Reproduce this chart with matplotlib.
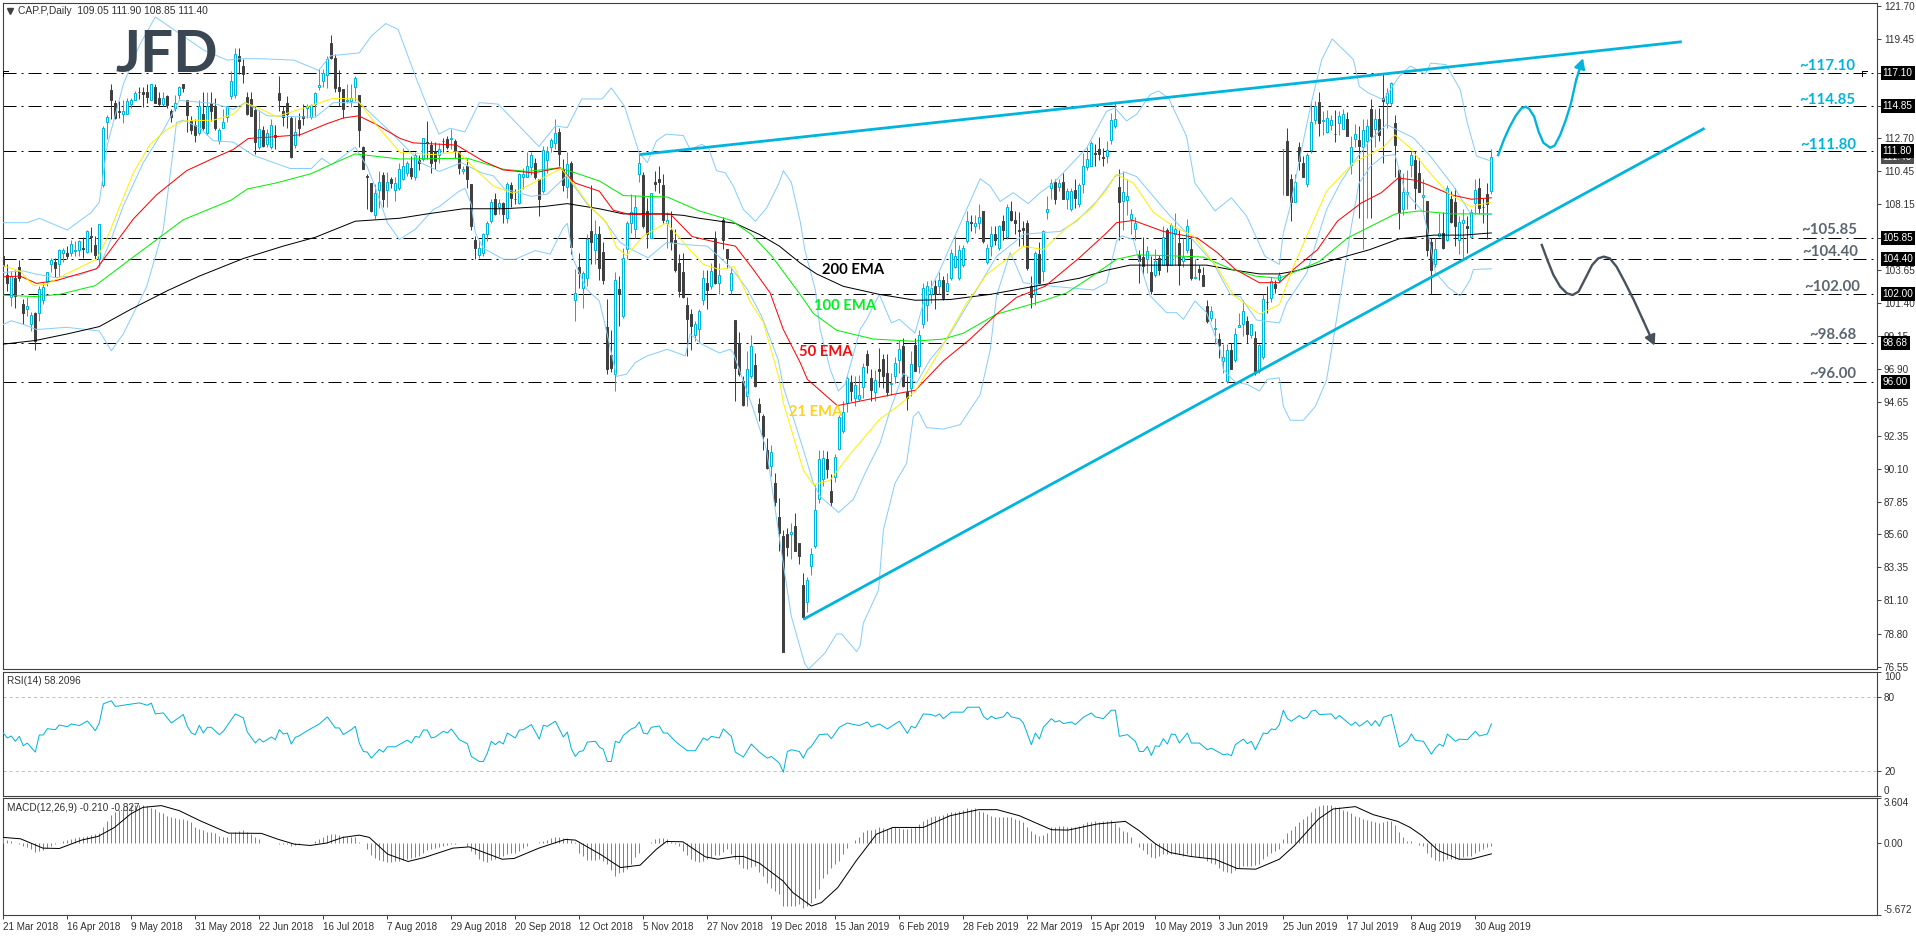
import matplotlib
matplotlib.use("Agg")
import matplotlib.pyplot as plt
from matplotlib.transforms import blended_transform_factory

# ---------- candles: (open, high, low, close), daily bars ----------
candles_a = [
(104.65,105.2,103.5,103.95),(103.3,104.1,102.2,102.8),(101.85,103.6,101.2,103.25),(103.1,103.7,101.1,101.9),
(103.85,104.35,102.9,103.1),(101.35,101.7,99.95,100.7),(101.0,101.8,100.55,101.2),(100.0,100.8,99.5,100.6),
(100.75,100.8,98.2,98.85),(100.75,102.55,100.2,102.35),(101.6,102.8,101.35,102.5),(102.85,103.55,102.6,103.55),
(104.1,104.5,103.5,104.35),(104.2,104.5,103.2,103.8),(104.05,105.1,103.2,105.0),(104.85,105.15,104.2,105.0),
(104.85,105.3,104.45,104.6),(104.85,105.75,104.65,105.45),(104.95,105.65,104.65,105.0),(105.0,105.75,104.65,105.65),
(105.15,105.9,104.5,105.1),(104.9,106.4,104.8,106.35),(106.0,106.6,104.9,105.9),(105.4,106.0,104.4,104.7),
(104.45,106.8,103.85,106.8),(109.45,113.5,109.35,113.4),(113.75,114.25,112.6,114.15),(115.95,116.35,114.0,115.25),
(115.05,115.3,114.0,114.05),(114.5,115.2,114.05,114.45),(114.3,115.3,113.7,114.5),(114.35,115.45,114.3,115.2),
(115.0,115.45,114.75,115.25),(115.25,115.9,115.25,115.75),(115.85,116.15,115.35,115.8),(115.8,116.15,114.8,115.7),
(115.8,116.35,115.1,115.5),(115.3,116.35,115.3,116.35),(116.15,116.35,115.05,115.1),(115.45,115.8,114.85,115.0),
(115.0,115.8,114.9,115.45),(115.55,115.65,114.7,114.95),(114.5,114.65,113.75,114.1),(114.7,115.65,114.55,115.05),
(115.6,116.25,115.35,116.15),(116.35,116.35,115.8,116.1),(115.25,115.3,113.1,114.25),(113.85,114.2,112.95,113.2),
(113.6,114.0,112.4,112.9),(113.0,115.25,112.9,114.9),(114.3,115.8,113.2,113.4),(113.0,115.85,112.9,114.85),
(115.05,115.8,113.85,114.5),(114.9,115.45,113.2,113.4),(112.5,113.4,112.25,113.2),(113.4,114.65,113.35,113.75),
(114.1,114.9,113.75,114.9),(115.55,117.25,115.35,116.6),(115.65,118.85,115.45,118.4),(118.3,118.85,117.05,117.95),
(117.6,118.05,116.45,117.05),(115.5,115.8,114.25,114.3),(115.35,115.8,114.25,114.2),(114.6,114.85,111.6,112.4),
]
candles_b = [
(112.1,114.6,111.95,113.3),(113.25,113.5,112.1,112.15),(112.25,113.3,112.05,113.0),(112.1,114.0,111.95,113.55),
(112.9,113.6,111.95,112.75),(115.75,116.9,114.55,115.3),(114.5,114.9,113.5,114.1),(115.1,115.55,113.4,114.3),
(114.05,114.2,111.3,111.4),(112.2,114.1,112.0,113.1),(113.9,114.4,112.85,113.4),(114.2,115.0,113.6,114.05),
(114.7,115.0,114.05,114.9),(114.1,115.0,114.0,114.95),(115.0,115.85,114.2,115.75),(116.15,117.4,115.95,116.3),
(116.6,117.4,116.2,117.1),(117.0,118.3,116.1,118.1),(119.2,119.7,118.1,118.15),(118.15,118.4,115.85,116.1),
(116.2,117.3,114.85,115.9),(116.05,116.05,114.05,114.65),(115.2,116.35,115.1,115.3),(115.2,116.35,114.8,115.45),
(116.2,116.9,115.2,116.8),(115.6,115.6,112.1,113.25),(112.1,112.15,110.55,110.6),(110.1,110.2,107.85,110.05),
(109.6,109.6,107.65,107.7),(107.4,109.55,107.15,108.95),(109.1,110.4,107.9,109.65),(110.15,110.35,108.0,108.5),
(109.1,110.35,108.0,109.65),(109.85,110.0,109.3,109.6),(109.1,110.0,108.4,109.6),(109.3,111.0,109.1,110.55),
(109.9,112.0,109.8,110.75),(110.3,111.1,110.1,110.95),(110.65,111.45,109.9,110.1),(110.05,111.7,109.8,111.55),
(111.2,111.55,110.5,111.0),(111.25,112.7,111.1,112.65),(112.4,113.85,111.25,112.35),(112.2,112.5,110.3,111.0),
(111.8,112.4,110.55,111.1),(111.55,112.35,111.0,111.95),(112.5,112.7,111.7,112.45),(112.6,112.85,111.9,112.1),
(112.6,113.3,111.9,112.7),(112.5,112.6,111.3,111.8),(111.75,111.8,110.2,110.65),(110.4,110.8,110.2,110.6),
(110.8,111.25,109.3,109.9),(109.55,109.55,106.4,106.7),(105.75,106.0,104.45,105.2),(104.7,105.75,104.5,105.2),
(104.85,106.2,104.6,106.15),(106.1,107.0,105.65,106.9),(107.0,108.55,106.9,108.3),(108.5,108.9,107.4,107.5),
(108.0,108.55,107.5,108.25),(108.25,108.3,106.85,107.5),(107.2,109.7,106.9,109.55),(109.5,109.7,108.0,108.6),
(108.55,109.2,108.2,108.5),(108.25,110.3,108.15,110.2),(110.0,110.65,109.2,110.25),(110.05,111.75,110.0,110.75),
(110.7,111.7,110.15,111.5),(110.95,111.35,109.9,110.0),(109.85,109.9,107.35,108.55),(109.05,112.15,108.9,111.85),
(111.2,112.15,110.3,111.7),(112.05,112.7,111.7,112.55),(112.35,113.95,111.9,113.05),(113.1,113.4,110.8,111.6),
(110.55,111.25,109.05,109.5),(109.35,111.7,108.6,110.9),(111.0,111.1,104.75,105.25),
]
candles_c = [
(101.65,103.75,100.2,102.1),(103.85,104.8,102.45,103.45),(102.45,103.6,101.1,103.45),(103.1,106.1,102.6,105.8),
(106.35,109.5,104.05,105.6),(105.05,107.1,104.05,106.15),(106.15,106.7,103.0,103.8),(104.9,105.55,102.7,103.0),
(99.75,101.7,96.55,96.9),(97.85,99.6,96.7,97.0),(96.55,103.5,95.4,103.0),(102.35,103.25,99.85,102.0),
(100.55,105.2,100.4,104.5),(105.1,107.0,104.4,106.9),(106.9,108.85,106.2,107.65),(106.5,108.8,105.85,108.0),
(110.25,111.6,109.65,110.95),(110.15,110.35,106.55,106.7),(107.7,108.6,105.2,106.1),(105.85,108.95,105.85,108.95),
(109.7,110.45,109.05,109.55),(109.9,110.8,108.9,109.65),(109.5,110.2,106.9,107.1),(106.85,107.6,105.2,107.1),
(106.4,107.7,105.05,105.55),(105.75,106.45,103.5,103.7),(104.15,104.75,101.8,102.25),(103.5,104.8,101.75,101.8),
(101.3,101.8,97.8,100.3),(100.65,101.0,98.2,99.85),(99.25,100.2,98.8,99.95),(99.65,101.0,98.65,100.85),
(101.65,103.7,101.25,103.15),(102.75,103.7,101.0,102.3),(102.6,104.15,102.35,103.6),(105.85,106.35,102.7,102.8),
(102.8,104.15,102.0,103.35),(107.1,107.3,105.1,105.7),(105.1,105.1,103.8,104.5),(102.3,103.9,102.0,103.45),
(100.25,100.25,94.7,97.0),(98.7,99.4,96.4,96.55),(96.1,96.4,94.35,94.45),(95.05,98.15,94.35,96.9),
(96.4,99.2,96.3,98.5),(97.2,98.0,95.7,95.75),(94.5,94.9,93.35,94.0),(93.7,93.85,91.4,92.3),
(91.35,92.2,90.05,90.15),(90.25,91.7,89.6,91.25),(89.1,89.8,87.55,87.8),(86.8,88.1,84.5,85.7),
(85.5,85.9,77.55,77.55),(85.6,86.05,84.1,84.75),(85.65,86.35,83.9,85.75),(86.2,87.1,84.5,84.5),
(85.0,85.0,83.55,84.15),(82.15,82.95,79.8,79.95),(81.0,82.7,80.3,82.5),(83.45,84.65,82.8,84.3),
(84.8,89.0,84.65,87.25),(88.0,91.4,87.75,90.75),(89.4,91.35,88.9,90.8),(90.75,91.3,89.45,90.05),
]
candles_d = [
(88.55,89.7,87.55,87.85),(89.5,91.1,89.2,90.9),(91.45,93.75,91.35,93.63),(92.7,94.7,92.5,93.95),
(94.55,96.45,93.95,96.3),(96.0,96.5,94.7,95.4),(94.95,96.45,94.4,95.8),(94.85,96.5,94.75,95.15),
(95.65,97.3,94.9,97.05),(97.95,98.2,96.6,97.2),(96.3,96.9,94.7,95.5),(95.3,96.85,94.7,96.15),
(96.9,98.35,95.7,96.75),(97.6,97.9,95.6,96.45),(96.65,97.9,95.05,95.3),(95.9,96.65,95.15,95.95),
(96.4,97.75,95.95,97.3),(97.5,98.9,96.6,98.25),(98.45,99.0,95.7,95.75),(95.3,96.4,94.1,94.95),
(95.6,98.1,95.05,97.25),(98.55,99.0,96.75,96.75),(97.1,99.6,96.6,99.25),(100.0,102.8,99.7,102.45),
(101.25,102.9,100.15,102.55),(102.05,103.0,101.4,102.45),(102.55,103.0,101.0,102.0),(102.55,103.55,102.0,103.0),
(103.0,103.25,101.65,101.75),(102.2,103.45,102.2,102.8),(103.1,105.1,103.0,104.85),(103.9,106.0,103.8,104.65),
(103.1,105.35,103.0,105.05),(104.0,105.4,103.9,105.15),(105.65,107.7,105.5,107.0),(106.95,107.45,106.35,106.85),
(106.7,107.45,106.2,106.9),(106.85,108.15,106.5,107.3),(107.7,107.7,105.5,105.65),(104.2,105.45,104.1,105.15),
(105.3,106.65,104.6,106.15),(106.15,106.65,105.4,105.7),(105.2,106.75,105.05,106.65),(107.0,107.45,105.75,106.4),
(105.9,108.15,105.8,108.0),(107.7,108.35,107.0,107.1),(107.1,107.7,106.1,106.9),(106.4,107.6,105.3,106.35),
(106.55,107.0,105.3,106.4),(106.9,107.1,103.7,103.8),(102.55,103.25,101.05,101.85),(102.05,104.95,101.3,104.8),
(104.75,105.55,102.65,102.75),(103.6,106.4,102.9,106.3),(107.6,108.7,107.15,107.8),(109.25,109.85,108.5,109.6),
(109.65,109.85,108.15,108.5),(109.35,109.9,109.05,109.6),(109.65,110.3,108.5,108.5),(108.5,109.25,107.8,109.05),
(107.8,109.25,107.7,109.05),(109.1,109.85,107.9,108.6),(108.15,109.6,108.0,109.5),(109.55,111.65,108.95,110.8),
(110.7,112.1,110.5,111.25),(110.75,112.45,110.75,112.35),(111.65,112.25,110.75,111.6),(111.9,112.75,111.2,111.6),
(111.4,112.0,110.8,111.3),(111.45,112.45,111.0,111.85),(112.55,114.4,112.3,113.9),(113.5,115.2,113.35,114.0),
(109.35,110.55,105.75,108.3),(108.35,110.4,106.4,109.0),(108.45,109.9,107.45,108.75),(107.15,107.85,106.1,107.5),
(106.45,107.3,105.7,106.85),
]
candles_e = [
(104.7,105.05,102.8,104.25),(104.55,105.9,103.35,103.95),(104.4,105.3,103.45,104.95),(103.5,104.6,102.0,102.2),
(103.3,105.1,103.2,104.3),(104.5,104.7,103.35,103.7),(104.0,106.65,104.0,105.95),(106.4,106.55,103.55,104.0),
(104.0,106.9,104.0,106.75),(106.1,107.55,104.0,106.45),(105.5,106.4,102.65,104.0),(104.25,105.85,103.9,104.55),
(105.05,107.15,104.8,106.7),(105.1,106.0,103.0,103.1),(103.15,104.45,103.05,103.2),(103.75,104.0,103.0,103.5),
(103.3,103.9,102.55,102.6),(101.2,101.65,100.05,100.15),(100.4,101.2,100.15,100.85),(99.65,100.4,98.6,99.7),
(98.95,99.35,97.65,98.55),(97.45,98.6,96.65,97.75),(96.05,98.6,95.95,98.2),(98.2,98.7,96.9,96.9),
(97.5,99.7,97.35,99.3),(99.8,100.7,99.8,99.9),(99.95,101.6,99.15,100.85),(100.15,100.5,98.65,99.3),
(99.25,100.0,99.0,100.0),(99.0,99.5,96.5,96.75),(96.8,98.6,96.65,98.55),(97.7,102.0,97.6,101.7),
(101.5,102.55,100.7,101.45),(101.75,103.2,101.5,102.9),(102.7,103.0,102.1,102.45),(102.95,103.55,102.85,103.3),
(111.9,111.95,108.8,111.95),(112.5,113.35,108.8,108.8),(109.85,110.25,107.0,108.3),(108.3,110.25,108.3,109.7),
(112.05,112.4,110.5,111.1),(111.0,111.45,110.05,110.05),(109.55,111.65,109.35,111.5),(111.85,115.2,111.65,113.8),
(113.9,115.2,113.65,114.85),(115.15,115.8,112.85,113.7),(113.85,114.5,112.9,113.9),(113.1,114.6,113.0,114.05),
(113.6,114.25,113.25,113.9),(112.98,114.6,112.4,112.95),(113.7,114.5,112.9,114.2),(113.3,114.65,113.3,114.3),
(113.95,114.45,112.85,112.85),(110.85,112.8,110.2,112.1),(112.6,113.65,112.05,112.95),(112.55,113.5,107.2,112.15),
(112.1,113.95,105.1,113.2),(112.45,113.95,107.2,113.5),(114.65,115.35,107.2,112.8),(113.3,114.65,112.05,113.95),
(113.95,114.7,112.45,112.9),(115.4,117.05,111.0,115.2),(115.1,116.1,113.35,115.75),(115.1,116.5,114.85,116.45),
(113.7,114.25,110.05,112.2),(110.5,110.55,106.45,107.65),(107.8,110.3,107.45,109.0),(108.85,110.5,107.8,109.0),
(110.85,111.8,110.05,111.5),(111.2,111.8,107.8,109.3),(110.3,111.3,109.0,109.0),(108.65,109.85,107.7,108.8),
(108.4,108.4,104.6,105.0),(105.55,105.85,102.05,103.65),(104.1,105.85,103.9,105.1),(106.0,107.55,105.95,106.2),
(106.2,107.6,105.1,105.2),(105.75,109.45,105.65,109.25),(108.55,109.05,106.9,106.95),(108.3,109.25,105.3,106.65),
(105.75,107.35,104.75,106.95),(106.85,107.8,104.4,107.1),(106.7,107.35,104.8,106.55),(105.9,107.8,105.9,107.65),
(108.25,109.9,107.5,109.1),(109.25,109.95,107.5,107.9),(108.0,108.6,106.9,107.95),(108.85,109.6,105.8,108.2),
(109.05,111.9,108.85,111.4),
]

# ---------- moving averages: bar position and value of each drawn vertex ----------
ema200_bars = [0,8,16,24,32,41,49,60,70,78,88,99,106,115,125,135,141,149,155,165,170,174,183,189,194,199.2,203.3,210,219,228,236.7,246.7,256.7,269,275.8,281.7,290.8,300.8,306.7,314,319,323,327,333,341.5,349,357.6,365,372]
ema200_vals = [98.6,98.85,99.3,99.8,101,102.25,103.25,104.45,105.3,105.9,107,107.2,107.5,107.85,107.85,108,108.2,107.85,107.5,107.5,107.4,107.2,106.85,106.1,105.3,104.15,103.4,102.55,102,101.6,101.65,102,102.5,103.1,103.65,104,104,104,103.7,103.4,103.4,103.6,103.9,104.4,105.05,105.8,106.05,106.05,106.2]

ema100_bars = [0,8,14,23,32,45,57,61,68,77,82.5,88,99,116,125,131,139,143,149,155,166,174,182,187,192,199.2,202.5,208.3,217.5,227.5,235,240,248.3,259.2,265.8,272.5,278.3,283.3,290.8,300,306.7,313,319,329,336,348,354,362,372]
ema100_vals = [101.95,101.85,102,102.6,104.45,107.1,108.45,109.2,109.6,110.25,110.95,111.6,111.25,111.3,110.55,110.4,110.65,110.3,109.75,108.75,108.65,107.7,107.05,106.1,104.65,102.0,100.7,99.55,98.95,98.8,98.95,99.35,100.65,101.5,102.1,103.3,104.4,104.7,104.65,104.55,103.75,103.25,103.1,104.25,105.85,107.5,107.7,107.5,107.5]

ema50_bars = [0,4.2,8.3,13.3,23.3,26.7,32.5,38.3,45.8,52.5,57.5,61.25,66.7,74.2,80.8,85,88.8,93.3,99.2,102.5,113.3,120,125,132.5,139.2,143,149,152.5,156.7,166.7,172.2,179.2,183,187.5,191.7,195,199.2,201,208.5,216.7,224,228,235,241.7,248.3,253.3,260.4,269,275.8,278.3,282.5,290,298.5,303.5,308,314,319,322.5,328.5,333.5,339.5,344.5,348.7,353,356,362,367,372]
ema50_vals = [103.2,103.25,102.75,102.95,103.75,105,107.15,108.8,110.45,111.3,111.9,112.65,112.75,112.9,113.65,114.05,114.2,113.6,112.65,112.35,112.2,111.1,110.5,110.3,110.65,109.6,109.05,107.75,107.45,107.5,105.95,105.5,105.3,103.7,102.1,99.6,97.35,96.2,94.4,94.85,95.25,95.45,97.45,98.95,100.65,101.8,102.55,104.5,106.2,106.9,107.05,106.3,105.85,104.85,103.7,102.8,102.8,103.7,105.05,107,108.25,108.95,109.95,109.8,109.5,108.8,108.5,108.6]

ema21_bars = [0,4.2,7.5,10.8,15.8,23.3,25.8,32.5,36.7,40.8,45,52.5,57.5,60.4,63.3,68.3,74.2,78,82.5,88.3,93.3,99.2,107.5,113.7,118,122.5,127.5,132.7,139.5,142.7,146.7,150.8,153.3,155.8,160,165.8,170.8,175,179,182.7,186.8,190,194,195,200,202.5,206.7,210.8,219,224,228,233.8,235.8,240.8,245.8,255,260,265.8,271.7,275.8,278.2,282.5,287.5,292.5,297.5,303.3,307.5,314,319,322.5,330.8,337.5,345,347.9,351.7,356,361,366.8,372]
ema21_vals = [103.95,103.6,102.6,102.7,103.4,104.4,105.75,110.3,112.25,113.25,113.85,113.9,114.3,115.1,114.8,114.15,114.65,115,115.4,115.35,113.55,111.7,111.55,111.75,110.55,109.4,108.9,109.65,110.6,109.5,108,106.9,105.2,104.65,106,106.9,105.3,104.05,103.7,103.9,101.45,100.1,96.2,94.6,90,89,89.3,90.8,93.45,94.45,95.4,98,99,101.4,103.35,105.3,105.05,106.55,107.8,109.15,110.2,109.6,107.6,106.65,106,103.9,101.95,100.65,101.3,103.9,109.05,111,112.05,112.9,112,110.5,108.95,108,108.3]

# ---------- Bollinger bands ----------
bb_upper_bars = [0,6,9,16,22,24,26,30,34,38,42,50,56,59,64.5,72.7,78.8,81.8,89,92,95.6,98.7,103.3,107.3,108.9,111.7,115.4,119,123.7,133.9,138,141,144.6,149.7,152,155.3,158.9,161,163.3,165.7,170,171.7,174.6,176.3,178.3,180.5,182.5,185,188,190.8,194,195,197,199.2,200.4,203,204.2,206.7,208.75,210.4,212,214.2,215.8,219,222,224,227.9,230,234.2,237.5,244.2,246.7,249.2,252.5,256.2,259.2,262.5,270.8,275.8,277.9,280.8,283.3,286.7,288.8,291.3,295.8,297.9,302.9,307,310.8,315.4,319,320,321.7,324.2,327,329.6,332.2,337.5,339,341.3,345,349,351.7,355.5,356.8,360.6,364.2,366,368.3,372]
bb_upper_vals = [106.9,106.9,107.2,106.4,107.6,108.3,112.2,116.35,119,120.95,120.2,118.7,118,118.1,118.1,118,117.3,118.3,118.5,119.65,120.5,120.1,116.7,113.95,112.95,113.35,113.1,115.1,115,112.1,113.5,113.4,115.35,115.35,116.1,114.85,111.7,111,112.5,112.95,112.85,111.9,112.25,112,110.45,110.3,109.4,107.8,107,107.9,109.65,110.45,109.65,107,105,102.3,99.6,96.9,95.4,95.85,97.4,99.6,100.3,102,100.05,100.3,99.35,101.4,103.7,105.75,109.9,109.4,108.35,108.95,108.2,108.95,109.6,112,114.5,114.75,113.85,114.3,115.65,115.9,115.4,112.8,109.6,107.7,108.6,107.35,104.6,104.05,106.2,108,111.45,115.1,118.05,119.45,118.05,116.2,115.75,115.3,116.9,117.6,117.05,117.8,117.7,116,113.7,111.45,111.1]

bb_mid_bars = [0,5,8,13,19,24,27,30,35,40,44,52.5,57.5,60.5,66,78,82.5,89,97,104.3,109,114.5,119.6,122.5,125.3,132,136,140.8,146,150,154.2,157.5,161.2,165.8,170.5,176,182,186,189.5,193.7,195,200,202.5,204.2,208.8,212.5,215.8,219.2,221.7,225,228.3,231.7,235.8,248.3,252.5,255,259.2,264.2,268.3,273.3,275.5,277.9,280.4,283.3,286.7,291.7,295.8,302.5,306.7,309.2,313.3,319,320.8,325.8,330.8,334.2,337.5,341.7,345.8,352.5,356.7,362.5,366.7,372]
bb_mid_vals = [103.5,103.6,103.4,103.15,103.3,103.85,105.8,108.05,111,113.2,115.25,115.05,114.65,115.1,114.2,114.1,115.1,115.1,113.05,111,110.4,111,110.3,110.1,109.2,108.7,108.85,110.1,108.15,107.15,105.55,105,104.5,105.55,105.4,105.3,103.8,102.35,100.55,97.55,95.7,91.4,89.1,88.2,87.1,88,90,91.85,94.1,96.6,95.95,97.55,98.9,104.6,105.5,106.1,106.2,106.3,107,108.35,109.15,110.05,110.35,110.05,108.95,107.35,106.2,104.15,102,101.85,100.25,100.05,101.4,103.45,107.8,109.6,111,112.55,113.6,112.7,111.45,109.4,107.55,107.45]

bb_lower_bars = [0,2,5,8.3,15.8,22.5,24,27,30,35.8,40,42.5,43.3,45,49,52.5,57.5,62.5,71.7,77,79.6,82,88,91,93,96,99,103,107.5,109,113.7,115.4,117,118,120,125,128,133,136.7,140,141,142.5,145.8,149,150.5,153.3,155.8,158,161,166,170.5,171.7,174.6,179,181.7,182.5,187.5,190.8,194.2,197,200.3,201.3,205.4,208.3,209.6,213.3,214.2,215,218.8,220,222.9,225.8,227.5,228.8,230.8,235,239.2,244.2,246.7,248.3,251.7,253.3,255,262.5,272.5,275.8,278.3,279.6,282.5,283.8,286.7,290.8,293.3,295,297.9,300.8,304.2,305,308,311,314,316,319,320,321.7,325,328,330.8,333.3,337,338.9,341.8,345,347.9,350.4,355,356.3,358,361.3,364.2,366.7,367.5,372]
bb_lower_vals = [99.95,100.2,99.95,99.6,99.75,99.55,99.5,98.15,99.3,102.5,106.45,111.9,113.75,113.9,113.4,112.5,112.4,111.5,110.6,110.6,111.3,110.85,112.05,110.7,109.3,106.9,105.75,106.45,107.8,108,109,109.25,108.15,106.2,105.15,104.4,104.4,105,104.75,106.55,106.85,104.4,102.35,101.55,99.85,96.4,96.55,97.35,97.8,98.25,97.8,99.3,98.6,98,98.25,98,94.15,91.4,85,80,76.8,76.4,77.5,78.8,78.8,77.6,78,79.55,81.8,85.9,89.1,90.45,93.65,94,92.9,92.8,93.1,95.15,98.2,101.9,104.85,103.9,102.8,102.55,102.3,102.8,105.65,106,105.75,104.4,101.9,100.75,100.75,100.3,101.55,100.75,98.2,96.85,96,95.85,95.4,96.2,96.3,94.35,93.4,93.4,94.35,96.15,100.3,106.65,109.6,110.75,111.45,111.55,109.05,107.6,106,103.5,102.45,101.9,103,103.7,103.75]

# ---------- levels and drawings ----------
level_prices = [117.10,114.85,111.80,105.85,104.40,102.00,98.68,96.00]
level_names = ["~117.10","~114.85","~111.80","~105.85","~104.40","~102.00","~98.68","~96.00"]
price_ticks = [121.70,119.45,117.10,114.85,112.70,110.45,108.15,105.85,103.65,101.40,99.15,96.90,94.65,92.35,90.10,87.85,85.60,83.35,81.10,78.80,76.55]
last_close = 111.40

resistance_bars = [159, 419.6]
resistance_vals = [111.55, 119.26]
support_bars = [200, 425.3]
support_vals = [79.8, 113.35]

up_path_bars = [373.7,375.1,376.6,378.1,379.5,380.6,381.5,382.7,383.8,385,386.7,387.8,389.2,390.6,391.9,393.2,394.9]
up_path_vals = [111.52,112.55,113.46,114.21,114.71,114.82,114.66,114.14,113.12,112.36,112.02,112.16,112.89,113.91,115.05,116.65,118.13]
down_path_bars = [384.6,386,387.5,389.2,390.9,392.3,393.8,395.5,397.2,398.7,400.1,401.6,403.3,405.3,407.6,409.9,412.8]
down_path_vals = [105.38,104.35,103.33,102.53,102.07,101.96,102.19,103.1,104.01,104.46,104.58,104.46,103.89,102.87,101.62,100.25,98.5]

# ---------- RSI(14) ----------
rsi_bars = [0,1,2,3,4,5,6,8,9,10,11,13,14,16,17,19,21,23,24,25,27,28,30,34,36,37,38,40,42,45,46,47,48,49,50,51,52,54,55,58,60,61,63,64,65,67,68,69,70,71,72,73,74,76,79,81,83,84,85,87,88,89,90,91,92,94,95,96,98,101,102,103,104,105,106,107,108,110,111,112,114,116,117,119,120,121,122,123,124,125,126,128,129,130,132,134,135,136,138,140,141,142,143,144,145,146,148,149,150,151,152,153,154,155,157,158,159,
160,161,162,164,165,166,168,169,171,173,175,176,177,179,180,182,183,185,187,189,191,192,194,195,196,197,199,200,201,202,204,206,207,209,211,212,214,216,217,219,221,224,226,227,228,230,232,233,234,235,237,240,241,244,245,246,247,248,250,251,252,254,255,257,258,259,260,262,263,264,265,267,268,270,272,273,275,277,278,279,281,283,284,285,286,287,288,289,290,291,292,293,294,296,297,299,301,302,305,306,307,308,310,311,312,313,315,316,317,318,319,
320,321,322,324,325,326,327,328,329,332,333,334,336,337,338,339,341,342,343,344,345,347,349,351,352,353,355,357,358,359,360,361,363,364,366,368,369,371,372]
rsi_vals = [50.8,46.8,48.4,44.1,48.1,40.5,42.7,35.4,49.2,49.2,54.3,53.5,57.3,55.9,58.1,56.8,60.5,52.7,58.9,74.3,76.8,72.2,73.2,75.1,73.2,74.9,66.2,67,58.9,65.7,56.2,50.8,49.5,57,50.8,55.4,55.4,49.5,52.2,66.2,63,51.6,42.7,46.2,43.5,47.6,45.4,53.5,50,50.8,41.9,47.3,48.6,52.7,58.1,63.8,54.9,54.9,49.5,53.5,56.2,42.7,35.9,35.4,30.5,37.6,35.4,39.7,39.7,45.1,42.7,48.1,47.3,53.2,53.2,46.8,47.6,52.2,50.8,54.1,45.4,42.2,31.9,27.8,27.8,34.6,44.1,41.4,44.1,41.9,50.8,46.8,53.2,53.5,57.6,45.9,57,56.2,60.3,47.6,51.6,38.1,31.9,35.9,36.5,43.5,44.1,39.5,37.6,27.8,27.8,44.1,43,48.9,54.1,55.4,59.7,
50.8,50,55.4,56.5,50.8,50.8,44.1,41.4,36.5,36.5,46.8,44.9,48.1,46.8,54.1,48.1,35.4,31.4,41.9,35.4,30.5,31.9,26.5,19.2,35.9,37.3,35.9,30.5,37.3,40,49.5,50,46.2,55.4,58.9,58.1,56.8,59.7,55.7,58.1,54.1,60.3,50.5,56.2,54.9,66.2,65.7,64.3,66.2,62.4,67.6,67.6,71.6,71.6,64.3,61.6,64.3,62.4,63.8,67.6,63.8,62.4,58.9,41.4,50.8,45.9,55.4,62.4,59.7,60.8,58.4,59.7,57.6,63.5,67,63.8,62.4,69.2,69.2,48.1,49.5,44.1,35.9,35.9,40,32.7,40.5,40,46.2,41.9,50,49.5,42.7,50.8,42.7,42.7,37.3,38.6,33.2,34,32.4,41.4,45.9,42.2,44.1,37.3,50.8,50.3,54.1,53.5,57.6,
69.2,62.4,60.3,64.9,62.4,63.5,68.4,69.2,65.7,66.2,62.2,64.9,59.5,57,59.7,56.2,60.8,56.8,60.8,56.2,63.5,65.7,39.5,44.1,50,44.9,44.1,33.8,38.6,41.9,40,50,44.1,45.9,45.4,52.2,48.4,50,58.2096]
rsi_levels = [80, 20]

# ---------- MACD(12,26,9) ----------
macd_hist_a = [.48,.27,.16,0,-.03,-.24,-.32,-.45,-.64,-.58,
 -.53,-.37,-.19,-.05,.03,.21,.27,.34,.42,.48,
 .53,.61,.69,.74,.8,1.27,1.8,2.28,2.5,2.65,
 2.73,3,3.02,3.02,3.02,3.02,3,2.8,2.73,2.52,
 2.39,2.2,2.07,1.99,1.94,1.9,1.86,1.67,1.33,1.14,
 1.09,.93,.88,.8,.61,.53,.48,.8,.88,1,
 1.06,.88,.74,.53,.34,.03,0,.01,.05,-.05,
 -.05,-.05,-.19,-.13,-.05,.03,.03,0,.21,.34,
 .48,.66,.74,.74,.69,.61,.48,.48,.48,.13,
 .03,-.45,-.9,-1.17,-1.33,-1.43,-1.46,-1.46,-1.38,-1.38,
 -1.33,-1.25,-1.18,-1.11,-.98,-.72,-.53,-.45,-.37,-.27,
 -.24,-.13,-.05,-.05,.03,.03,-.19,-.58,-.85,-1.25]
macd_hist_b = [-1.38,-1.46,-1.33,-1.25,-1.11,-.98,-.85,-.72,-.72,-.58,
 -.37,-.19,0,0,.08,.16,.27,.42,.48,.48,
 .45,.4,.27,.08,-.72,-.98,-1.33,-1.33,-1.33,-1.25,
 -1.38,-1.59,-2.12,-2.57,-2.36,-2.25,-2.04,-1.64,-1.11,-.72,
 .03,.03,.08,.34,.4,.4,.34,.08,-.05,-.19,
 -.58,-.9,-1.25,-1.43,-1.5,-1.38,-1.25,-1.06,-.95,-.9,
 -.64,-.45,-.85,-1.25,-1.6,-1.91,-1.99,-1.86,-1.8,-2.25,
 -2.57,-3.1,-3.5,-3.77,-4.03,-4.96,-4.96,-4.96,-4.96,-4.83,
 -5.09,-4.96,-4.69,-4.3,-3.63,-2.7,-2.44,-1.91,-1.65,-1.38,
 -.85,-.37,0,.27,.48,.88,1.06,1.06,1.14,1.27,
 1.22,1.14,1.27,1.27,1.22,1.14,1.14,1.22,1.27,1.54,
 1.8,1.94,2.12,2.2,2.2,2.28,2.39,2.52,2.52,2.6]
macd_hist_c = [2.68,2.79,2.73,2.81,2.6,2.47,2.33,2.2,2.12,2.07,
 2.07,2.12,2.07,1.94,1.86,1.67,1.27,1,.74,.61,
 .69,.8,1.27,1.33,1.35,1.35,1.33,1.27,1.33,1.4,
 1.54,1.67,1.67,1.75,1.72,1.8,1.8,1.86,1.6,1.33,
 1,.88,.48,0,-.27,-.53,-.85,-1.06,-1.17,-1,
 -.85,-.8,-.85,-.8,-.85,-.98,-.85,-.98,-.98,-1.11,
 -1.11,-1.38,-1.51,-1.64,-1.91,-2.17,-2.3,-2.36,-2.12,-1.91,
 -1.78,-1.78,-1.78,-1.7,-1.64,-1.25,-.98,-.72,-.58,-.4,
 .34,.8,1.09,1.4,1.72,1.94,2.2,2.47,2.81,2.97,
 3.02,3.03,3.05,2.87,2.87,2.65,2.6,2.39,2.2,2.07,
 1.94,1.86,1.75,1.67,1.6,1.67,1.8,1.8,1.46,.88,
 .48,.21,.21,0,-.13,-.19,-.72,-1.11,-1.3,-1.38,
 -1.43,-1.25,-1.25,-1.25,-1.2,-1.11,-1.03,-.98,-.72,-.58,
 -.45,-.3,-.21]
macd_signal_bars = [0,4.3,9.9,14,19.6,23.7,27.8,31.8,34.9,39.5,44,49.2,56.3,64.5,68.6,72.7,76.7,80.8,84.9,89,91.5,96.1,101.2,105.3,112.4,116.5,124.7,127.7,133.9,140.5,143,149.2,154.3,159.2,163.3,165.8,169.9,175.5,178.6,183,185,189,194.9,197.4,202,204.5,208.6,213.2,218.3,222.4,230,236.7,243.8,248.4,254,262,266.2,273.4,280.5,284,288.1,291.7,296.8,302.9,308.5,313.1,319,322.7,328.8,332.4,338,342.5,348.6,351.7,354.7,358.8,363.9,366.9,372]
macd_signal_vals = [.48,.37,-.37,-.4,.27,.56,1.27,2.33,2.86,3,2.6,1.8,.82,.8,.34,-.05,-.16,.03,.48,.66,.48,-.85,-1.43,-1.11,-.37,-.27,-1.25,-1.19,-.37,.32,.27,-.85,-1.91,-1.72,-.45,.16,.13,-1.06,-1.25,-1.03,-1.03,-1.56,-2.97,-3.9,-4.96,-4.69,-3.5,-1.38,.74,1.27,1.27,2.2,2.68,2.68,2.2,1.09,1.06,1.54,1.75,1,-.05,-.72,-1.03,-1.25,-1.99,-2.04,-1.25,-.19,1.94,2.73,2.92,2.28,1.75,1.27,.61,-.58,-1.25,-1.25,-.827]

date_labels = ["21 Mar 2018","16 Apr 2018","9 May 2018","31 May 2018","22 Jun 2018","16 Jul 2018","7 Aug 2018","29 Aug 2018","20 Sep 2018","12 Oct 2018","5 Nov 2018","27 Nov 2018","19 Dec 2018","15 Jan 2019","6 Feb 2019","28 Feb 2019","22 Mar 2019","15 Apr 2019","10 May 2019","3 Jun 2019","25 Jun 2019","17 Jul 2019","8 Aug 2019","30 Aug 2019"]
bars_per_label = 16

# ---------- styling ----------
W, H = 1916, 936
CYAN = "#00B4DC"
DARK = "#404040"
BAND = "#87CEFA"
GREY_TXT = "#5C6670"
UI = "Liberation Sans"
LABEL = "Lato"
THIN = 0.72

plt.rcParams["font.family"] = [UI, "DejaVu Sans"]
plt.rcParams["lines.scale_dashes"] = False
fig = plt.figure(figsize=(W / 100, H / 100), dpi=100, facecolor="white")

def axes_px(x0, y0, x1, y1):
    return fig.add_axes([x0 / W, 1 - y1 / H, (x1 - x0) / W, (y1 - y0) / H])

ax = axes_px(2.5, 2.5, 1877, 669)
ax_rsi = axes_px(2.5, 672, 1877, 796)
ax_macd = axes_px(2.5, 798, 1877, 915)

for a in (ax, ax_rsi, ax_macd):
    a.set_xlim(-0.2, 468.4)
    for s in a.spines.values():
        s.set_color(DARK)
        s.set_linewidth(0.8)
    a.yaxis.tick_right()
    a.tick_params(axis="y", length=3, width=0.7, color=DARK, labelsize=7.2,
                  labelcolor="#303030", pad=2)
    a.set_xticks([])

ax.set_ylim(76.41, 121.94)
ax_rsi.set_ylim(0, 100)
ax_macd.set_ylim(-5.672, 3.604)

# levels
dash = (0, (9.4, 3.6, 1.4, 3.6))
for p in level_prices:
    ax.axhline(p, color="black", lw=THIN, ls=dash, zorder=2)

# candles
candles = candles_a + candles_b + candles_c + candles_d + candles_e
xs = list(range(len(candles)))
up = [c[3] >= c[0] for c in candles]
for x, (o, h, l, c), u in zip(xs, candles, up):
    ax.vlines(x, l, h, color=CYAN if u else DARK, lw=THIN, zorder=3)
ax.bar([x for x, u in zip(xs, up) if u],
       [abs(c[3] - c[0]) for c, u in zip(candles, up) if u],
       bottom=[min(c[0], c[3]) for c, u in zip(candles, up) if u],
       width=0.5, facecolor="white", edgecolor=CYAN, linewidth=THIN, zorder=3.2)
ax.bar([x for x, u in zip(xs, up) if not u],
       [abs(c[3] - c[0]) for c, u in zip(candles, up) if not u],
       bottom=[min(c[0], c[3]) for c, u in zip(candles, up) if not u],
       width=0.5, facecolor=DARK, edgecolor=DARK, linewidth=THIN, zorder=3.2)

# indicators
for bx, by in ((bb_upper_bars, bb_upper_vals), (bb_mid_bars, bb_mid_vals), (bb_lower_bars, bb_lower_vals)):
    ax.plot(bx, by, color=BAND, lw=THIN, zorder=4)
ax.plot(ema200_bars, ema200_vals, color="black", lw=THIN, zorder=4.2)
ax.plot(ema100_bars, ema100_vals, color="#00F000", lw=THIN, zorder=4.2)
ax.plot(ema50_bars, ema50_vals, color="#FF0000", lw=THIN, zorder=4.2)
ax.plot(ema21_bars, ema21_vals, color="#FFF000", lw=THIN, zorder=4.2)

# small level hooks on both edges of the price panel
ax.plot([0, 0, 1.2], [116.9, 117.25, 117.25], color="black", lw=THIN, zorder=5)
ax.plot([464.6, 464.6, 465.8], [116.9, 117.25, 117.25], color="black", lw=THIN, zorder=5)

# trend lines and scenario paths
ax.plot(resistance_bars, resistance_vals, color=CYAN, lw=2.0, zorder=5, solid_capstyle="butt")
ax.plot(support_bars, support_vals, color=CYAN, lw=2.0, zorder=5, solid_capstyle="butt")
for bx, by, col in ((up_path_bars, up_path_vals, CYAN), (down_path_bars, down_path_vals, "#48525C")):
    ax.plot(bx[:-1], by[:-1], color=col, lw=1.7, zorder=5, solid_joinstyle="round")
    ax.annotate("", xy=(bx[-1], by[-1]), xytext=(bx[-2], by[-2]), zorder=5,
                arrowprops=dict(arrowstyle="-|>,head_width=0.32,head_length=0.6", color=col, lw=1.7,
                                shrinkA=0, shrinkB=0))

# price axis
ax.set_yticks(price_ticks)
ax.set_yticklabels([f"{t:.2f}" for t in price_ticks])
trans = blended_transform_factory(ax.transAxes, ax.transData)
axis_x = 1 + 5.5 / (1877 - 2.5)
for p in level_prices:
    ax.text(axis_x, p, f"{p:.2f}", transform=trans, color="white", fontsize=7.2, va="center", ha="left",
            zorder=8, clip_on=False, bbox=dict(boxstyle="square,pad=0.2", fc="black", ec="black", lw=0))
ax.text(axis_x, last_close, f"{last_close:.2f}", transform=trans, color="white", fontsize=7.2, va="center",
        ha="left", zorder=7, clip_on=False,
        bbox=dict(boxstyle="square,pad=0.2", fc="#505050", ec="#505050", lw=0))

# level captions
caption_y = [66, 100, 145, 230, 252, 287, 335, 374]
caption_x = [1827, 1827, 1828, 1829, 1830, 1832, 1833, 1833]
for i, (name, yp, xp) in enumerate(zip(level_names, caption_y, caption_x)):
    fig.text(xp / W, 1 - yp / H, name, color=CYAN if i < 3 else GREY_TXT, fontsize=10.8,
             family=[LABEL, "DejaVu Sans"], weight="bold", ha="center", va="center", zorder=9)

# EMA captions
ema_caps = [("200 EMA", 853, 270, "black"), ("100 EMA", 845, 306, "#00F020"),
            ("50 EMA", 826, 352, "#F01010"), ("21 EMA", 816, 412, "#FFD21E")]
for txt, xp, yp, col in ema_caps:
    fig.text(xp / W, 1 - yp / H, txt, color=col, fontsize=10.6, family=[LABEL, "DejaVu Sans"],
             weight="bold", ha="center", va="center", zorder=9)

# logo, above the upper band it hides
fig.text(167 / W, 1 - 56 / H, "JFD", color="#3A4651", fontsize=42, weight="bold",
         family=[LABEL, "DejaVu Sans"], ha="center", va="center", zorder=9)

# header
ax.plot([0.004], [0.9877], marker="v", color=DARK, ms=4.5, transform=ax.transAxes, zorder=9, clip_on=False)
fig.text(18 / W, 1 - 10.5 / H, "CAP.P,Daily  109.05 111.90 108.85 111.40", color="#303030", fontsize=7.35,
         va="center", ha="left", zorder=9)

# RSI panel
ax_rsi.plot(rsi_bars, rsi_vals, color=CYAN, lw=THIN, zorder=4)
for lv in rsi_levels:
    ax_rsi.axhline(lv, color="#C0C0C0", lw=THIN, ls=(0, (2.2, 2.2)), zorder=2)
ax_rsi.set_yticks([0, 20, 80, 100])
ax_rsi.set_yticklabels(["0", "20", "80", "100"])
rsi_tl = ax_rsi.get_yticklabels()
rsi_tl[0].set_va("bottom")
rsi_tl[3].set_va("top")
fig.text(7.3 / W, 1 - 680.7 / H, "RSI(14) 58.2096", color="#303030", fontsize=7.2, va="center", ha="left", zorder=9)

# MACD panel
macd_hist = macd_hist_a + macd_hist_b + macd_hist_c
ax_macd.vlines(list(range(len(macd_hist))), 0, macd_hist, color=CYAN, lw=THIN, zorder=3)
ax_macd.plot(macd_signal_bars, macd_signal_vals, color="black", lw=THIN, zorder=4)
ax_macd.set_yticks([-5.672, 0, 3.604])
ax_macd.set_yticklabels(["-5.672", "0.00", "3.604"])
macd_tl = ax_macd.get_yticklabels()
macd_tl[0].set_va("bottom")
macd_tl[2].set_va("top")
fig.text(7.3 / W, 1 - 807.7 / H, "MACD(12,26,9) -0.210 -0.827", color="#303030", fontsize=7.2, va="center",
         ha="left", zorder=9)

# date axis
tick_bars = [i * bars_per_label for i in range(len(date_labels))]
ax_macd.set_xticks(tick_bars)
ax_macd.set_xticklabels(date_labels, fontsize=7.1, color="#303030")
ax_macd.tick_params(axis="x", length=3, width=0.7, color=DARK, pad=2)
for t in ax_macd.get_xticklabels():
    t.set_ha("left")

fig.savefig("out.png", dpi=100, facecolor="white")
